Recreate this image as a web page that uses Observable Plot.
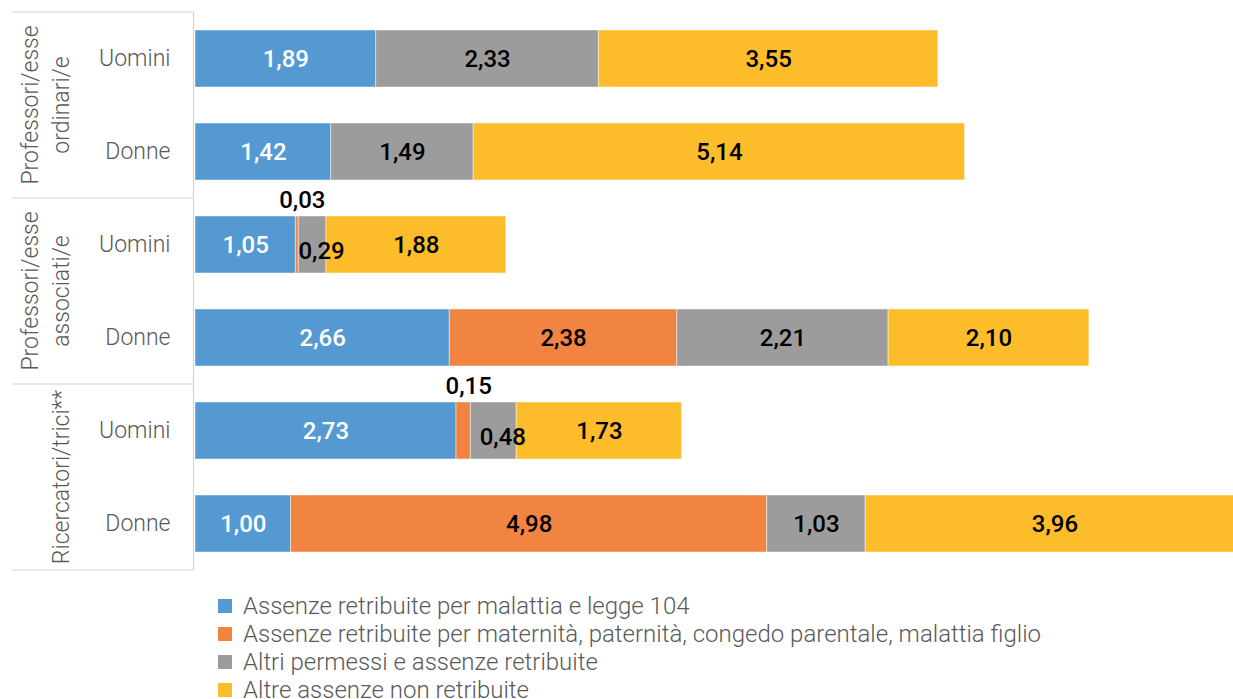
<!DOCTYPE html>
<html>
<head>
<meta charset="utf-8">
<script src="https://cdn.jsdelivr.net/npm/d3@7"></script>
<script src="https://cdn.jsdelivr.net/npm/@observablehq/plot@0.6"></script>
<style>
  body { margin: 0; background: #fff; font-family: Roboto, sans-serif; }
  #wrap { position: relative; width: 1233px; height: 699px; overflow: hidden; }
  #legend { position: absolute; left: 218px; top: 592px; color: #595959; font-size: 24px; font-weight: 300; line-height: 28px; white-space: nowrap; }
  #legend .item { display: flex; align-items: center; height: 28px; }
  #legend .sw { width: 14px; height: 14px; margin-right: 11px; flex: none; }
</style>
</head>
<body>
<div id="wrap"><div id="chart"></div><div id="legend"></div></div>
<script>
const groupNames = ["Professori/esse ordinari/e", "Professori/esse associati/e", "Ricercatori/trici**"];
const groupLines = [["Professori/esse", "ordinari/e"], ["Professori/esse", "associati/e"], ["Ricercatori/trici**"]];
const genders = ["Uomini", "Donne"];
const categories = [
  "Assenze retribuite per malattia e legge 104",
  "Assenze retribuite per maternità, paternità, congedo parentale, malattia figlio",
  "Altri permessi e assenze retribuite",
  "Altre assenze non retribuite"
];
const colors = ["#5599d3", "#f08440", "#9c9c9c", "#fdbd2b"];
// rows: ordinari U, ordinari D, associati U, associati D, ricercatori U, ricercatori D
const malattia      = [1.89, 1.42, 1.05, 2.66, 2.73, 1.00];
const maternita     = [null, null, 0.03, 2.38, 0.15, 4.98];
const altriPermessi = [2.33, 1.49, 0.29, 2.21, 0.48, 1.03];
const nonRetribuite = [3.55, 5.14, 1.88, 2.10, 1.73, 3.96];

const series = [malattia, maternita, altriPermessi, nonRetribuite];
const keys = [];
groupNames.forEach((g, gi) => genders.forEach(s => keys.push(gi + "|" + s)));

const data = [];
keys.forEach((k, ri) => {
  series.forEach((vals, ci) => {
    if (vals[ri] != null) data.push({key: k, cat: categories[ci], value: vals[ri]});
  });
});

const fmt = v => d3.format(".2f")(v).replace(".", ",");
const pxPerUnit = 95.6;
const xMax = (1233 - 195) / pxPerUnit;

// label kinds: blue segment (white text), normal, small (offset), tiny (above bar)
const kind = d => d.cat === categories[0] ? "blue" : d.value < 0.2 ? "tiny" : d.value < 0.5 ? "small" : "normal";
const labelOf = k => d => kind(d) === k ? fmt(d.value) : "";
const label = (k, extra) => Plot.text(data, Plot.stackX({
  x: "value", y: "key", z: "cat", order: null,
  text: labelOf(k), fontSize: 24, fontWeight: 500, fill: k === "blue" ? "white" : "black", ...extra
}));

const plot = Plot.plot({
  width: 1233,
  height: 582,
  marginLeft: 195,
  marginRight: 0,
  marginTop: 12,
  marginBottom: 12,
  style: {fontFamily: "Roboto, sans-serif", background: "white"},
  x: {domain: [0, xMax], axis: null},
  y: {domain: keys, paddingInner: 0.387, paddingOuter: 0.1935, axis: null},
  color: {domain: categories, range: colors},
  marks: [
    Plot.barX(data, Plot.stackX({x: "value", y: "key", fill: "cat", z: "cat", order: null, stroke: "white", strokeOpacity: 0.45, strokeWidth: 1, clip: true})),
    Plot.axisY({tickSize: 0, tickPadding: 25, fontSize: 23, fontWeight: 300, color: "#595959", tickFormat: k => k.split("|")[1], label: null}),
    label("blue", {}),
    label("normal", {}),
    label("small", {dx: 9, dy: 6}),
    label("tiny", {dx: 5, dy: -45})
  ]
});

document.getElementById("chart").appendChild(plot);

// table-like decorations on the left, positioned with the plot's y scale
const y = plot.scale("y");
const gap = (y.step - y.bandwidth) / 2;
const svg = d3.select(plot);
const deco = svg.append("g");
const lineColor = "#d4d4d4";
const bounds = [];
groupNames.forEach((g, gi) => {
  const top = y.apply(keys[2 * gi]) - gap;
  const bottom = y.apply(keys[2 * gi + 1]) + y.bandwidth + gap;
  bounds.push([top, bottom]);
});
const ys = [bounds[0][0], ...bounds.map(b => b[1])];
ys.forEach(v => deco.append("line").attr("x1", 12).attr("x2", 193.5).attr("y1", v).attr("y2", v)
  .attr("stroke", lineColor).attr("stroke-width", 1.2));
deco.append("line").attr("x1", 193.5).attr("x2", 193.5).attr("y1", ys[0]).attr("y2", ys[ys.length - 1])
  .attr("stroke", lineColor).attr("stroke-width", 1.2);

groupLines.forEach((lines, gi) => {
  const cy = (bounds[gi][0] + bounds[gi][1]) / 2;
  const cx = lines.length === 2 ? 45.75 : 61;
  const t = deco.append("text")
    .attr("transform", `translate(${cx},${cy}) rotate(-90)`)
    .attr("text-anchor", "middle")
    .attr("fill", "#595959")
    .attr("font-size", 23)
    .attr("font-weight", 300)
    .attr("font-family", "Roboto, sans-serif");
  lines.forEach((ln, li) => {
    t.append("tspan").attr("x", 0)
      .attr("y", lines.length === 2 ? (li === 0 ? -15.75 : 15.75) : 0)
      .attr("dominant-baseline", "central")
      .text(ln);
  });
});

// legend
const legend = d3.select("#legend");
categories.forEach((c, i) => {
  const it = legend.append("div").attr("class", "item");
  it.append("div").attr("class", "sw").style("background", colors[i]);
  it.append("span").text(c);
});
</script>
</body>
</html>
